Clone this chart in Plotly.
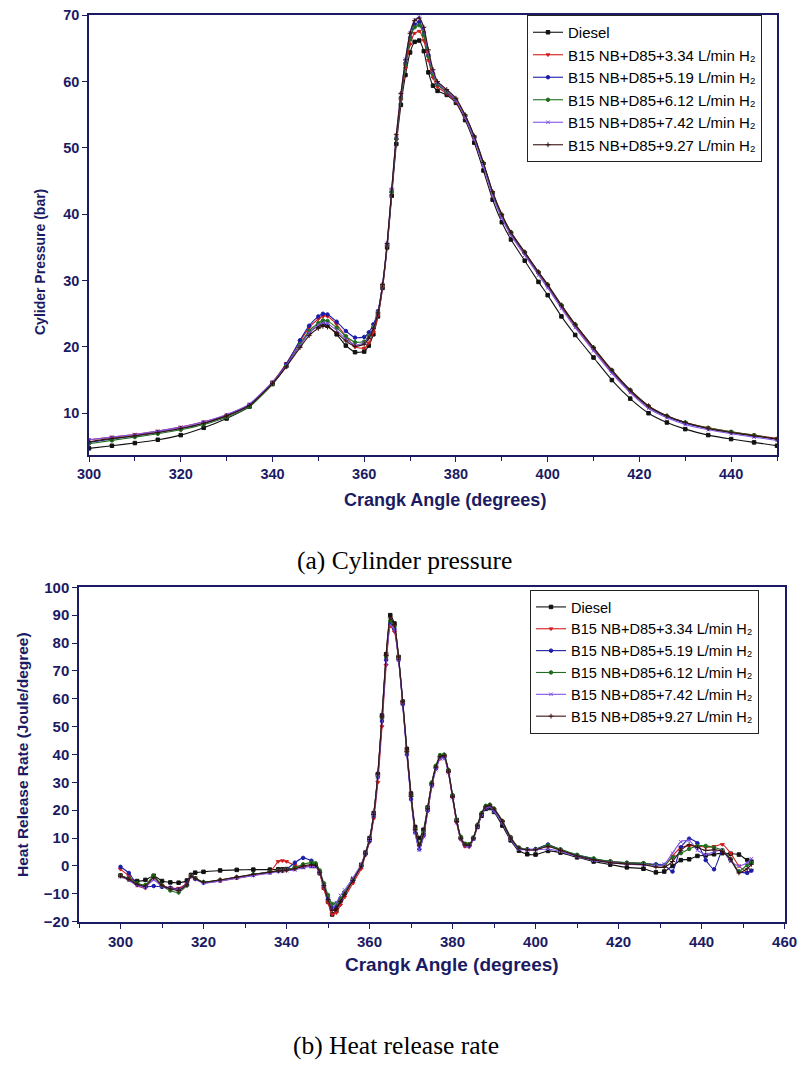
import plotly.graph_objects as go

# ---------------- Cylinder pressure (bar) vs crank angle ----------------
angle_p = [300, 305, 310, 315, 320, 325, 330, 335, 340,
           343, 346, 348, 350, 351, 352, 354, 356, 358, 360,
           361, 362, 363, 364, 365, 366, 367, 368, 369, 370, 371, 372, 373, 374, 375, 376,
           378, 380, 382, 384, 386, 388, 390, 392, 395, 398, 400,
           403, 406, 410, 414, 418, 422, 426, 430, 435, 440, 445, 450]

p_diesel = [4.7, 5.1, 5.5, 6.0, 6.7, 7.8, 9.2, 11.0, 14.4,
            17.1, 20.3, 22.2, 23.2, 23.4, 23.2, 21.9, 20.2, 19.2, 19.3,
            20.2, 21.9, 24.6, 28.9, 35.0, 42.8, 50.6, 56.5, 61.0, 64.4, 66.0, 66.2, 64.6, 61.4, 59.4, 58.6,
            58.0, 56.8, 54.2, 50.8, 46.6, 42.2, 38.8, 36.2, 33.0, 29.8, 27.8,
            24.6, 21.8, 18.4, 15.0, 12.2, 10.0, 8.6, 7.6, 6.7, 6.1, 5.6, 5.1]
p_h334 = [6.0, 6.4, 6.8, 7.3, 7.9, 8.7, 9.7, 11.3, 14.7,
          17.5, 20.8, 22.9, 24.2, 24.6, 24.6, 23.4, 21.6, 20.0, 19.8,
          20.6, 22.2, 24.8, 29.0, 35.2, 43.2, 51.2, 57.2, 62.0, 65.6, 67.3, 67.6, 66.2, 63.2, 60.6, 59.2,
          58.2, 57.0, 54.6, 51.4, 47.4, 43.0, 39.6, 37.0, 34.0, 31.0, 29.1,
          26.0, 23.1, 19.6, 16.2, 13.2, 10.9, 9.5, 8.6, 7.8, 7.2, 6.7, 6.2]
p_h519 = [5.6, 6.1, 6.6, 7.1, 7.7, 8.5, 9.6, 11.2, 14.6,
          17.4, 21.0, 23.2, 24.6, 25.0, 24.9, 23.8, 22.4, 21.4, 21.5,
          22.2, 23.4, 25.4, 29.4, 35.4, 43.4, 51.4, 57.6, 62.8, 66.6, 68.6, 69.0, 67.4, 64.0, 61.2, 59.6,
          58.4, 57.2, 54.8, 51.6, 47.6, 43.2, 39.8, 37.2, 34.2, 31.2, 29.3,
          26.2, 23.3, 19.8, 16.4, 13.4, 11.0, 9.5, 8.5, 7.7, 7.1, 6.6, 6.1]
p_h612 = [5.4, 5.9, 6.4, 6.9, 7.5, 8.3, 9.4, 11.0, 14.4,
          17.1, 20.4, 22.4, 23.6, 24.0, 23.9, 22.9, 21.6, 20.7, 20.8,
          21.6, 23.0, 25.2, 29.3, 35.4, 43.4, 51.4, 57.5, 62.5, 66.4, 68.2, 68.5, 67.0, 63.8, 61.1, 59.6,
          58.5, 57.3, 54.9, 51.7, 47.7, 43.3, 39.9, 37.3, 34.3, 31.3, 29.4,
          26.3, 23.4, 19.9, 16.5, 13.5, 11.1, 9.6, 8.6, 7.8, 7.2, 6.7, 6.1]
p_h742 = [6.0, 6.4, 6.8, 7.3, 7.9, 8.7, 9.8, 11.4, 14.7,
          17.2, 20.2, 22.1, 23.3, 23.6, 23.5, 22.5, 21.2, 20.3, 20.6,
          21.4, 22.9, 25.2, 29.4, 35.6, 43.8, 52.0, 58.2, 63.4, 67.4, 69.3, 69.7, 68.0, 64.4, 61.4, 59.8,
          58.6, 57.2, 54.6, 51.3, 47.2, 42.8, 39.4, 36.8, 33.8, 30.8, 28.9,
          25.8, 22.9, 19.4, 16.0, 13.1, 10.7, 9.3, 8.3, 7.5, 6.9, 6.4, 5.9]
p_h927 = [5.7, 6.2, 6.6, 7.1, 7.7, 8.5, 9.6, 11.2, 14.5,
          17.0, 19.9, 21.7, 22.8, 23.1, 23.0, 22.1, 20.9, 20.1, 20.4,
          21.3, 22.8, 25.1, 29.4, 35.6, 43.8, 52.0, 58.2, 63.3, 67.3, 69.2, 69.6, 68.2, 64.8, 61.8, 60.0,
          58.8, 57.5, 55.0, 51.8, 47.8, 43.4, 40.0, 37.3, 34.3, 31.3, 29.4,
          26.3, 23.4, 19.9, 16.5, 13.5, 11.1, 9.6, 8.6, 7.7, 7.1, 6.6, 6.1]

# ---------------- Heat release rate (J/deg) vs crank angle ----------------
angle_h = [300, 302, 304, 306, 308, 310, 312, 314, 316, 317, 318,
           320, 324, 328, 332, 336,
           338, 339, 340, 342, 344, 346, 347, 348, 349, 350,
           351, 352, 353, 354, 356, 358,
           359, 360, 361, 362, 363, 364, 365, 366, 367, 368, 369, 370, 371, 372, 373, 374,
           375, 376, 377, 378, 379, 380, 381, 382, 383, 384, 385, 386, 387, 388, 389, 390,
           392, 394, 396, 398, 400,
           403, 406, 410, 414, 418, 422, 426,
           429, 431, 433, 435, 437, 439, 441, 443, 445, 447, 449, 451, 452]

h_diesel = [-3.4, -4.5, -5.4, -5.0, -3.5, -5.4, -5.9, -6.0, -5.2, -3.2, -2.4,
            -2.1, -1.6, -1.4, -1.3, -1.3,
            -1.2, -1.2, -1.1, -0.8, -0.3, 0.0, 0.0, -2.6, -7.8, -12.8,
            -17.4, -16.0, -12.4, -9.6, -4.8, 0.4,
            4.8, 10, 19, 33, 54, 76, 90, 87, 75, 59, 42, 26, 14, 10, 13, 21,
            29.5, 35.5, 39, 39.5, 34, 25, 16.5, 10, 7.8, 7.6, 9.8, 14, 18, 20.5, 20.8, 19.4,
            14.5, 9.2, 5.5, 4.2, 4.1,
            5.4, 4.8, 3.1, 1.6, 0.5, -0.5, -1.0,
            -2.3, -2.0, 0.0, 2.1, 2.4, 3.6, 3.8, 4.2, 4.6, 4.4, 4.1, 2.1, 1.6]
h_h334 = [-1.2, -3.5, -7.0, -8.0, -3.9, -7.0, -7.8, -8.0, -6.2, -3.4, -4.2,
          -6.0, -5.4, -4.4, -3.4, -2.2,
          1.6, 1.9, 1.6, 0.2, -0.2, 0.0, 0.0, -2.8, -8.2, -13.2,
          -17.4, -16.8, -14.0, -11.2, -6.2, -1.0,
          3.8, 8.5, 17, 30, 50, 72, 86, 84, 74, 58, 41, 25, 13, 7, 10.5, 19.5,
          28.5, 35, 38.5, 39, 33.5, 24.5, 15.5, 9.5, 7.0, 6.8, 9.6, 14.2, 18.5, 21, 21.6, 20.2,
          16, 10.2, 6.4, 5.8, 5.8,
          7.0, 5.8, 3.8, 2.4, 1.6, 1.1, 1.0,
          0.3, 0.1, 3.6, 6.7, 7.2, 7.2, 6.7, 7.0, 7.7, 4.6, 0.0, -2.3, -1.5]
h_h519 = [-0.3, -2.5, -6.5, -7.5, -7.2, -7.5, -7.8, -8.4, -6.4, -3.6, -4.6,
          -5.9, -5.1, -4.1, -3.1, -2.2,
          -1.8, -1.6, -1.2, 1.2, 2.9, 1.9, 0.6, -2.2, -6.8, -11.4,
          -15.1, -14.6, -12.4, -10.0, -5.2, 0.0,
          4.2, 9, 18, 32, 52, 74, 87, 85, 74, 58, 40, 24, 12, 6, 11, 20,
          29, 35, 39, 39, 34, 25, 16, 10, 7.6, 7.4, 10, 14.5, 18.5, 21, 21.5, 20,
          15.8, 9.8, 6.2, 6.0, 6.1,
          7.7, 5.8, 3.9, 2.6, 1.6, 1.1, 0.9,
          0.6, 0.4, -2.0, 6.7, 9.8, 8.2, 2.1, -1.2, 5.6, 2.1, -2.0, -2.5, -1.7]
h_h612 = [-3.4, -4.6, -6.2, -6.8, -3.6, -7.0, -8.8, -9.5, -7.0, -3.6, -4.4,
          -5.8, -5.0, -4.0, -3.0, -2.1,
          -1.6, -1.5, -1.3, -0.6, 0.6, 1.2, 1.0, -1.6, -6.2, -10.4,
          -13.6, -13.4, -11.6, -9.4, -4.8, 0.2,
          4.4, 9.5, 18.5, 32.5, 53, 75, 88, 86, 75, 59, 41, 25, 13, 8, 12, 21,
          30, 36, 39.8, 40, 34.5, 25.5, 16.5, 10.5, 8, 7.8, 10.2, 14.8, 19, 21.6, 22, 20.6,
          16.2, 10.4, 6.6, 6.0, 6.0,
          7.4, 6.0, 4.0, 2.7, 1.7, 1.2, 1.0,
          0.2, 0.2, 3.0, 4.6, 6.1, 7.2, 7.2, 6.6, 5.6, 2.6, -2.0, 0.4, 1.1]
h_h742 = [-3.9, -5.2, -7.0, -7.6, -5.0, -7.4, -8.0, -8.6, -6.6, -3.8, -4.8,
          -6.2, -5.4, -4.4, -3.4, -2.6,
          -2.0, -1.9, -1.7, -1.4, -0.6, -0.2, -0.2, -2.4, -7.0, -11.8,
          -15.6, -13.1, -10.6, -8.6, -4.2, 0.6,
          4.6, 9.5, 18.5, 32, 52, 73, 86.5, 85, 74, 58, 40, 24, 12, 5.8, 10.5, 19.5,
          28.5, 34.5, 38.5, 38.5, 33.5, 24.5, 15.5, 9.5, 7.2, 7.0, 9.6, 14.2, 18.4, 20.8, 21.2, 19.6,
          15.4, 9.6, 6.0, 5.8, 5.8,
          6.1, 5.2, 3.4, 2.0, 1.2, 0.6, 0.4,
          0.1, 0.6, 4.6, 8.7, 9.2, 5.6, 4.1, 5.1, 5.6, 1.6, 0.0, 1.1, 2.6]
h_h927 = [-3.6, -4.8, -6.6, -7.2, -4.2, -7.0, -8.2, -8.8, -6.8, -3.6, -4.6,
          -5.8, -5.0, -4.0, -3.0, -2.2,
          -1.8, -1.7, -1.5, -1.0, 0.0, 0.4, 0.2, -2.2, -7.0, -12.0,
          -16.0, -15.2, -12.8, -10.2, -5.2, 0.0,
          4.4, 9.5, 18.5, 33, 53.5, 75.5, 89, 86.5, 75, 59, 41, 25, 13, 7.5, 11.5, 20.5,
          29.5, 35.5, 39.3, 39.6, 34, 25, 16, 10, 7.6, 7.4, 10, 14.6, 18.8, 21.3, 21.8, 20.4,
          16, 10, 6.4, 5.8, 5.8,
          7.0, 5.6, 3.6, 2.2, 1.2, 0.7, 0.5,
          -0.4, -0.5, 1.6, 5.6, 7.7, 6.6, 5.6, 5.8, 5.2, 2.4, -2.5, -1.0, 0.6]

series_names = ["Diesel",
                "B15 NB+D85+3.34 L/min H₂",
                "B15 NB+D85+5.19 L/min H₂",
                "B15 NB+D85+6.12 L/min H₂",
                "B15 NB+D85+7.42 L/min H₂",
                "B15 NB+D85+9.27 L/min H₂"]
pressure = [p_diesel, p_h334, p_h519, p_h612, p_h742, p_h927]
heat_release = [h_diesel, h_h334, h_h519, h_h612, h_h742, h_h927]

colors = ["#111111", "#d41c1c", "#1c1ca8", "#1f6e1f", "#7f55e6", "#3a1212"]
symbols = ["square", "triangle-down", "circle", "circle", "x-thin", "cross-thin"]

NAVY = "#1b1b63"
SANS = "Liberation Sans"
SERIF = "Liberation Serif"

for s in pressure:
    assert len(s) == len(angle_p)
for s in heat_release:
    assert len(s) == len(angle_h)

fig = go.Figure()

for name, ys, c, sym in zip(series_names, pressure, colors, symbols):
    fig.add_trace(go.Scatter(
        x=angle_p, y=ys, name=name, xaxis="x", yaxis="y", legend="legend",
        mode="lines+markers",
        line=dict(color=c, width=1.1, shape="spline", smoothing=0.5),
        marker=dict(symbol=sym, size=3.5, color=c, line=dict(color=c, width=1)),
    ))

for name, ys, c, sym in zip(series_names, heat_release, colors, symbols):
    fig.add_trace(go.Scatter(
        x=angle_h, y=ys, name=name, xaxis="x2", yaxis="y2", legend="legend2",
        mode="lines+markers",
        line=dict(color=c, width=1.1, shape="spline", smoothing=0.5),
        marker=dict(symbol=sym, size=3.5, color=c, line=dict(color=c, width=1)),
    ))


def axis_style(font_size, **kw):
    base = dict(
        showline=True, linecolor=NAVY, linewidth=1.5, mirror=True,
        ticks="outside", ticklen=5, tickwidth=1.2, tickcolor=NAVY,
        showgrid=False, zeroline=False, automargin=False,
        tickfont=dict(family=SANS, size=font_size, color=NAVY, weight="bold"),
    )
    base.update(kw)
    return base


def label(text, x, y, size, angle=0, family=SANS, color=NAVY, bold=True):
    return dict(text=text, xref="paper", yref="paper", x=x / W, y=1 - y / H,
                xanchor="center", yanchor="middle", showarrow=False, textangle=angle,
                font=dict(family=family, size=size, color=color,
                          weight="bold" if bold else "normal"))


W, H = 799, 1074
minor_ticks = dict(dtick=10, ticks="outside", ticklen=4, tickcolor=NAVY, showgrid=False)

fig.update_layout(
    width=W, height=H, autosize=False,
    margin=dict(l=0, r=0, t=0, b=0),
    paper_bgcolor="white", plot_bgcolor="white",
    xaxis=axis_style(14.5, domain=[89 / W, 777 / W], anchor="y", range=[300, 450],
                     tick0=300, dtick=20, minor=minor_ticks),
    yaxis=axis_style(14.5, domain=[1 - 455 / H, 1 - 15 / H], anchor="x", range=[3.7, 70.05],
                     tick0=10, dtick=10),
    xaxis2=axis_style(15, domain=[79 / W, 785 / W], anchor="y2", range=[290, 460.1],
                      tick0=300, dtick=20, minor=minor_ticks),
    yaxis2=axis_style(15, domain=[1 - 922 / H, 1 - 587 / H], anchor="x2", range=[-20.1, 100.1],
                      tick0=0, dtick=10),
    legend=dict(
        x=527 / W, y=1 - 15 / H, xanchor="left", yanchor="top",
        bgcolor="white", bordercolor="#222222", borderwidth=1,
        font=dict(family=SANS, size=15, color="black"),
        tracegroupgap=0, itemwidth=30,
    ),
    legend2=dict(
        x=530 / W, y=1 - 590 / H, xanchor="left", yanchor="top",
        bgcolor="white", bordercolor="#222222", borderwidth=1,
        font=dict(family=SANS, size=14.5, color="black"),
        tracegroupgap=0, itemwidth=30,
    ),
    annotations=[
        label("Crangk Angle (degrees)", 445, 500, 18),
        label("Cylider Pressure (bar)", 40, 262, 14, angle=-90),
        label("Crangk Angle (degrees)", 452, 964, 19),
        label("Heat Release Rate (Joule/degree)", 22, 755, 15.5, angle=-90),
        label("(a) Cylinder pressure", 404, 560, 25.5, family=SERIF, color="black", bold=False),
        label("(b) Heat release rate", 396, 1045, 25.5, family=SERIF, color="black", bold=False),
    ],
)

fig.write_html("out.html")
